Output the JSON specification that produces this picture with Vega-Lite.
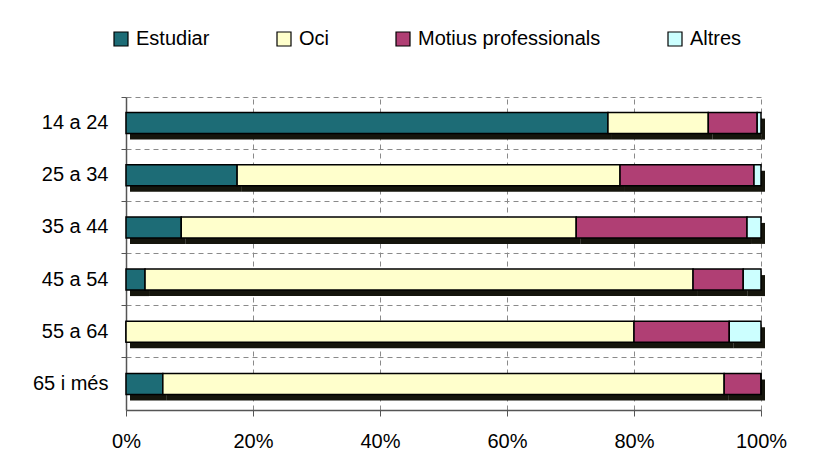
{
  "$schema": "https://vega.github.io/schema/vega-lite/v6.json",
  "autosize": "none",
  "width": 635,
  "height": 313,
  "padding": {"left": 126, "top": 97, "right": 73, "bottom": 52},
  "background": "white",
  "config": {
    "view": {"stroke": null},
    "font": "Liberation Sans",
    "axis": {"labelFont": "Liberation Sans", "labelColor": "#000000", "labelFontSize": 20}
  },
  "data": {
    "values": [
      {"age": "14 a 24", "cat": "Estudiar", "ord": 1, "v": 75.9},
      {"age": "14 a 24", "cat": "Oci", "ord": 2, "v": 15.8},
      {"age": "14 a 24", "cat": "Motius professionals", "ord": 3, "v": 7.7},
      {"age": "14 a 24", "cat": "Altres", "ord": 4, "v": 0.6},
      {"age": "25 a 34", "cat": "Estudiar", "ord": 1, "v": 17.5},
      {"age": "25 a 34", "cat": "Oci", "ord": 2, "v": 60.3},
      {"age": "25 a 34", "cat": "Motius professionals", "ord": 3, "v": 21.1},
      {"age": "25 a 34", "cat": "Altres", "ord": 4, "v": 1.1},
      {"age": "35 a 44", "cat": "Estudiar", "ord": 1, "v": 8.7},
      {"age": "35 a 44", "cat": "Oci", "ord": 2, "v": 62.2},
      {"age": "35 a 44", "cat": "Motius professionals", "ord": 3, "v": 26.9},
      {"age": "35 a 44", "cat": "Altres", "ord": 4, "v": 2.2},
      {"age": "45 a 54", "cat": "Estudiar", "ord": 1, "v": 3.0},
      {"age": "45 a 54", "cat": "Oci", "ord": 2, "v": 86.3},
      {"age": "45 a 54", "cat": "Motius professionals", "ord": 3, "v": 7.9},
      {"age": "45 a 54", "cat": "Altres", "ord": 4, "v": 2.8},
      {"age": "55 a 64", "cat": "Estudiar", "ord": 1, "v": 0},
      {"age": "55 a 64", "cat": "Oci", "ord": 2, "v": 80.0},
      {"age": "55 a 64", "cat": "Motius professionals", "ord": 3, "v": 15.0},
      {"age": "55 a 64", "cat": "Altres", "ord": 4, "v": 5.0},
      {"age": "65 i més", "cat": "Estudiar", "ord": 1, "v": 5.8},
      {"age": "65 i més", "cat": "Oci", "ord": 2, "v": 88.4},
      {"age": "65 i més", "cat": "Motius professionals", "ord": 3, "v": 5.8},
      {"age": "65 i més", "cat": "Altres", "ord": 4, "v": 0}
    ]
  },
  "encoding": {
    "y": {
      "field": "age", "type": "nominal",
      "sort": ["14 a 24", "25 a 34", "35 a 44", "45 a 54", "55 a 64", "65 i més"],
      "scale": {"paddingInner": 0, "paddingOuter": 0},
      "axis": {
        "title": null, "bandPosition": 0, "grid": true, "gridDash": [5, 4], "gridColor": "#8a8a8a", "gridWidth": 1,
        "domainColor": "#555555", "domainWidth": 1.5, "tickColor": "#555555", "tickSize": 5, "labelPadding": 13
      }
    },
    "x": {
      "field": "v", "type": "quantitative", "stack": "normalize",
      "scale": {"domain": [0, 1], "nice": false},
      "axis": {
        "title": null, "format": ".0%", "values": [0, 0.2, 0.4, 0.6, 0.8, 1],
        "labelFlush": false, "labelOverlap": false,
        "grid": true, "gridDash": [5, 4], "gridColor": "#8a8a8a", "gridWidth": 1,
        "domainColor": "#555555", "domainWidth": 1.5, "tickColor": "#555555", "tickSize": 6, "labelPadding": 15
      }
    },
    "order": {"field": "ord", "type": "quantitative"}
  },
  "layer": [
    {
      "mark": {"type": "bar", "size": 21, "xOffset": 4, "yOffset": 6, "color": "#15150c", "strokeWidth": 0},
      "encoding": {}
    },
    {
      "mark": {"type": "bar", "size": 21, "stroke": "#000000", "strokeWidth": 1.5},
      "encoding": {
        "color": {
          "field": "cat", "type": "nominal",
          "sort": ["Estudiar", "Oci", "Motius professionals", "Altres"],
          "scale": {
            "domain": ["Estudiar", "Oci", "Motius professionals", "Altres"],
            "range": ["#1d6c76", "#ffffcc", "#b03f74", "#ccffff"]
          },
          "legend": {
            "title": null, "orient": "none", "legendX": -15, "legendY": -68, "direction": "horizontal",
            "symbolType": "square", "symbolSize": 196, "symbolStrokeColor": "#000000", "symbolStrokeWidth": 1.2,
            "symbolOpacity": 1, "labelFontSize": 20, "labelFont": "Liberation Sans", "labelColor": "#000000",
            "labelOffset": 5, "columnPadding": 64, "labelLimit": 300
          }
        }
      }
    }
  ]
}
